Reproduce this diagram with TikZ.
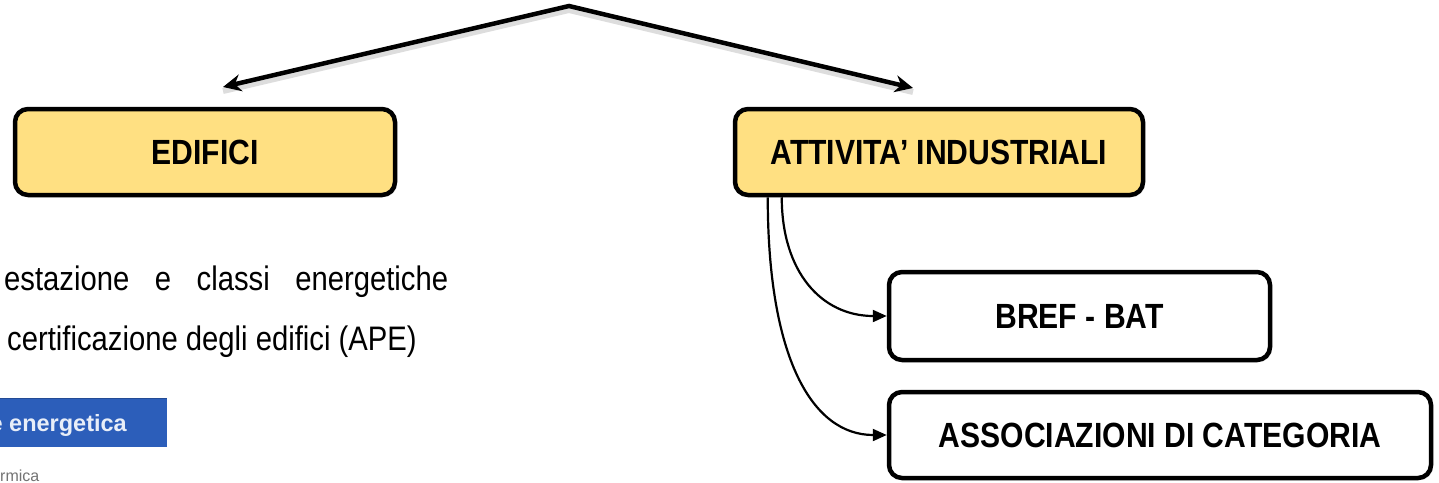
\documentclass[tikz,border=0pt]{standalone}
\usepackage{fontspec}
\setmainfont{Liberation Sans}
\newfontfamily\narrowsans[FakeStretch=0.86]{Liberation Sans}
\usetikzlibrary{arrows.meta,shadows,calc}

\definecolor{boxyellow}{RGB}{255,224,130}
\definecolor{bandblue}{RGB}{44,94,186}
\definecolor{bandtext}{RGB}{232,238,248}

\begin{document}
\begin{tikzpicture}[x=1pt,y=-1pt,
  topic/.style={draw, line width=4.5pt, rounded corners=13pt, fill=boxyellow,
    inner sep=0pt, align=center,
    font=\fontsize{35}{40}\selectfont\narrowsans\bfseries,
    drop shadow={shadow xshift=2pt, shadow yshift=-2pt, opacity=0.25}},
  plainbox/.style={topic, fill=white},
  bigarrow/.style={line width=4.5pt, line join=miter,
    {Stealth[length=18pt,width=17pt]}-{Stealth[length=18pt,width=17pt]}},
  arrowshade/.style={line width=6pt, black!22, opacity=0.6, line join=round},
  link/.style={line width=2.2pt, -{Triangle[length=14pt,width=12pt]}},
  bodytext/.style={inner sep=0pt, anchor=base west,
    font=\fontsize{34}{40}\selectfont\narrowsans}]

\useasboundingbox (0,0) rectangle (1439,482);
\clip (0,0) rectangle (1439,482);

% branching arrows from the apex
\coordinate (apex) at (569,6);
\coordinate (lefttip) at (223,87);
\coordinate (righttip) at (913,88);
\draw[arrowshade] ([yshift=-4pt]lefttip) -- ([yshift=-4pt]apex) -- ([yshift=-4pt]righttip);
\draw[bigarrow] (lefttip) -- (apex) -- (righttip);

% main boxes
\node[topic, minimum width=380pt, minimum height=86pt] (edifici) at (205,152) {EDIFICI};
\node[topic, minimum width=408pt, minimum height=86pt] (att) at (939,152) {ATTIVITA’ INDUSTRIALI};

% sub boxes
\node[plainbox, minimum width=381pt, minimum height=88pt] (bref) at (1079.5,316) {BREF - BAT};
\node[plainbox, minimum width=542pt, minimum height=86pt] (assoc) at (1160,435) {ASSOCIAZIONI DI CATEGORIA};

% curved links
\draw[link] ($(att.south west)+(49,0)$) .. controls +(0,75) and +(-65,0) .. (bref.west);
\draw[link] ($(att.south west)+(35,0)$) .. controls +(0,160) and +(-75,0) .. (assoc.west);

% text on the left
\node[bodytext] (line1) at (4,290) {\makebox[444pt][s]{estazione\hfill e\hfill classi\hfill energetiche}};
\node[bodytext] (line2) at (7,350) {certificazione degli edifici (APE)};

% blue band
\fill[bandblue] (0,398) rectangle (167,447);
\draw[bandblue!80!black, line width=0.8pt] (0,398.4) -- (167,398.4);
\node[inner sep=0pt, anchor=base east, text=bandtext,
  font=\fontsize{23.5}{28}\selectfont\bfseries] (band) at (127,431) {e energetica};
\node[inner sep=0pt, anchor=base west, text=black!55,
  font=\fontsize{16}{20}\selectfont] (tail) at (0,481) {rmica};
\end{tikzpicture}
\end{document}
